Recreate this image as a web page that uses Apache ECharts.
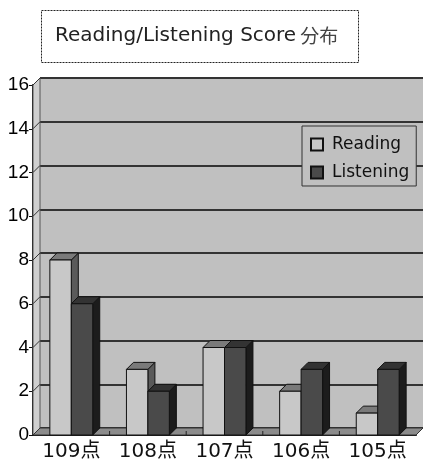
<!DOCTYPE html>
<html>
<head>
<meta charset="utf-8">
<script src="https://cdn.jsdelivr.net/npm/echarts@6/dist/echarts.min.js"></script>
<style>
  html, body { margin: 0; padding: 0; background: #fff; }
  #chart { width: 425px; height: 463px; }
</style>
</head>
<body>
<div id="chart"></div>
<script>
// Score distribution: number of people per score, Reading vs Listening
const categories = ['109点', '108点', '107点', '106点', '105点'];
const readingCounts = [8, 3, 4, 2, 1];
const listeningCounts = [6, 2, 4, 3, 3];
const yMin = 0, yMax = 16, yStep = 2;
const yTickValues = [0, 2, 4, 6, 8, 10, 12, 14, 16];

// pseudo-3D depth of the box (pixels, towards upper right)
const DX = 7, DY = -7;
const FONT = '"Liberation Sans", Arial, "Noto Sans CJK JP", sans-serif';
const WIDE = '"DejaVu Sans", "Noto Sans CJK JP", sans-serif';

const chart = echarts.init(document.getElementById('chart'), null, { renderer: 'canvas' });

function toPairs(vals) { return vals.map((v, i) => [i, v]); }

function barRenderer(slot, face, topFace, sideFace) {
  return function (params, api) {
    const ci = api.value(0), v = api.value(1);
    const base = api.coord([ci, 0]);
    const top = api.coord([ci, v]);
    const band = api.size([1, 0])[0];
    const bw = band * 0.28;
    const x0 = base[0] - bw + slot * bw, x1 = x0 + bw;
    const yb = base[1], yt = top[1];
    const st = { stroke: '#111', lineWidth: 1 };
    return {
      type: 'group',
      children: [
        { type: 'polygon', shape: { points: [[x1, yt], [x1 + DX, yt + DY], [x1 + DX, yb + DY], [x1, yb]] },
          style: Object.assign({ fill: sideFace }, st) },
        { type: 'polygon', shape: { points: [[x0, yt], [x0 + DX, yt + DY], [x1 + DX, yt + DY], [x1, yt]] },
          style: Object.assign({ fill: topFace }, st) },
        { type: 'rect', shape: { x: x0, y: yt, width: bw, height: yb - yt },
          style: Object.assign({ fill: face }, st) }
      ]
    };
  };
}

// side wall, floor and the slanted tick connectors of the box
function frameRenderer(params, api) {
  const band = api.size([1, 0])[0];
  const c0 = api.coord([0, yMin]);
  const cTop = api.coord([0, yMax]);
  const xl = c0[0] - band / 2;
  const xr = api.coord([categories.length - 1, yMin])[0] + band / 2;
  const yb = c0[1], yt = cTop[1];
  const children = [];
  children.push({ type: 'polygon', shape: { points: [[xl, yt], [xl + DX, yt + DY], [xl + DX, yb + DY], [xl, yb]] },
    style: { fill: '#cfcfcf', stroke: '#555', lineWidth: 1 } });
  children.push({ type: 'polygon', shape: { points: [[xl, yb], [xl + DX, yb + DY], [xr + DX, yb + DY], [xr, yb]] },
    style: { fill: '#8c8c8c', stroke: '#333', lineWidth: 1 } });
  yTickValues.forEach(function (t) {
    const p = api.coord([0, t]);
    children.push({ type: 'line', shape: { x1: xl, y1: p[1], x2: xl + DX, y2: p[1] + DY },
      style: { stroke: '#333', lineWidth: 1 } });
  });
  for (let i = 1; i < categories.length; i++) {
    const x = xl + band * i;
    children.push({ type: 'line', shape: { x1: x, y1: yb, x2: x, y2: yb - 4 },
      style: { stroke: '#222', lineWidth: 1 } });
  }
  return { type: 'group', children: children };
}

const option = {
  animation: false,
  backgroundColor: '#ffffff',
  graphic: [
    {
      type: 'rect', z: 10,
      shape: { x: 41.5, y: 10.5, width: 317, height: 52 },
      style: { fill: '#fff', stroke: '#222', lineWidth: 1, lineDash: [2, 1] }
    },
    {
      type: 'text', z: 11, x: 55, y: 26,
      style: {
        text: '{a|Reading/Listening Score}{b|分布}',
        rich: {
          a: { fontFamily: WIDE, fontSize: 20, fill: '#222' },
          b: { fontFamily: '"Noto Sans CJK JP", sans-serif', fontSize: 19, fill: '#444', padding: [0, 0, 0, 4] }
        }
      }
    }
  ],
  legend: {
    data: ['Reading', 'Listening'],
    orient: 'vertical',
    left: 302, top: 126,
    padding: [10, 7, 5, 8],
    itemGap: 11,
    itemWidth: 12, itemHeight: 12,
    icon: 'rect',
    backgroundColor: '#c0c0c0',
    borderColor: '#333', borderWidth: 1,
    textStyle: { fontFamily: WIDE, fontSize: 17, color: '#111', padding: [0, 0, 0, 4] },
    z: 20
  },
  grid: [
    // back wall
    { left: 40, top: 78, width: 383, height: 350, show: true, backgroundColor: '#c0c0c0', borderWidth: 0 },
    // front plane
    { left: 33, top: 85, width: 383, height: 350 }
  ],
  xAxis: [
    { gridIndex: 0, type: 'category', data: categories, show: false },
    {
      gridIndex: 1, type: 'category', data: categories,
      axisLine: { show: true, lineStyle: { color: '#111', width: 2 } },
      axisTick: { show: false },
      axisLabel: { fontFamily: WIDE, fontSize: 20, color: '#111', margin: 7 }
    }
  ],
  yAxis: [
    {
      gridIndex: 0, type: 'value', min: yMin, max: yMax, interval: yStep,
      axisLine: { show: false }, axisTick: { show: false }, axisLabel: { show: false },
      splitLine: { show: true, lineStyle: { color: '#333', width: 2 } }
    },
    {
      gridIndex: 1, type: 'value', min: yMin, max: yMax, interval: yStep,
      axisLine: { show: true, lineStyle: { color: '#111', width: 2 } },
      axisTick: { show: true, length: 4, lineStyle: { color: '#111' } },
      axisLabel: { fontFamily: FONT, fontSize: 19, color: '#000', margin: 4 },
      splitLine: { show: false }
    }
  ],
  series: [
    {
      type: 'custom', name: 'frame', xAxisIndex: 1, yAxisIndex: 1,
      data: [[0, 0]], renderItem: frameRenderer, silent: true, z: 1
    },
    {
      type: 'custom', name: 'Reading', xAxisIndex: 1, yAxisIndex: 1,
      data: toPairs(readingCounts), encode: { x: 0, y: 1 },
      itemStyle: { color: '#c8c8c8', borderColor: '#111', borderWidth: 1 },
      renderItem: barRenderer(0, '#c8c8c8', '#7a7a7a', '#5a5a5a'), z: 3
    },
    {
      type: 'custom', name: 'Listening', xAxisIndex: 1, yAxisIndex: 1,
      data: toPairs(listeningCounts), encode: { x: 0, y: 1 },
      itemStyle: { color: '#4a4a4a', borderColor: '#111', borderWidth: 1 },
      renderItem: barRenderer(1, '#4a4a4a', '#333333', '#1c1c1c'), z: 4
    }
  ]
};

chart.setOption(option);
</script>
</body>
</html>
